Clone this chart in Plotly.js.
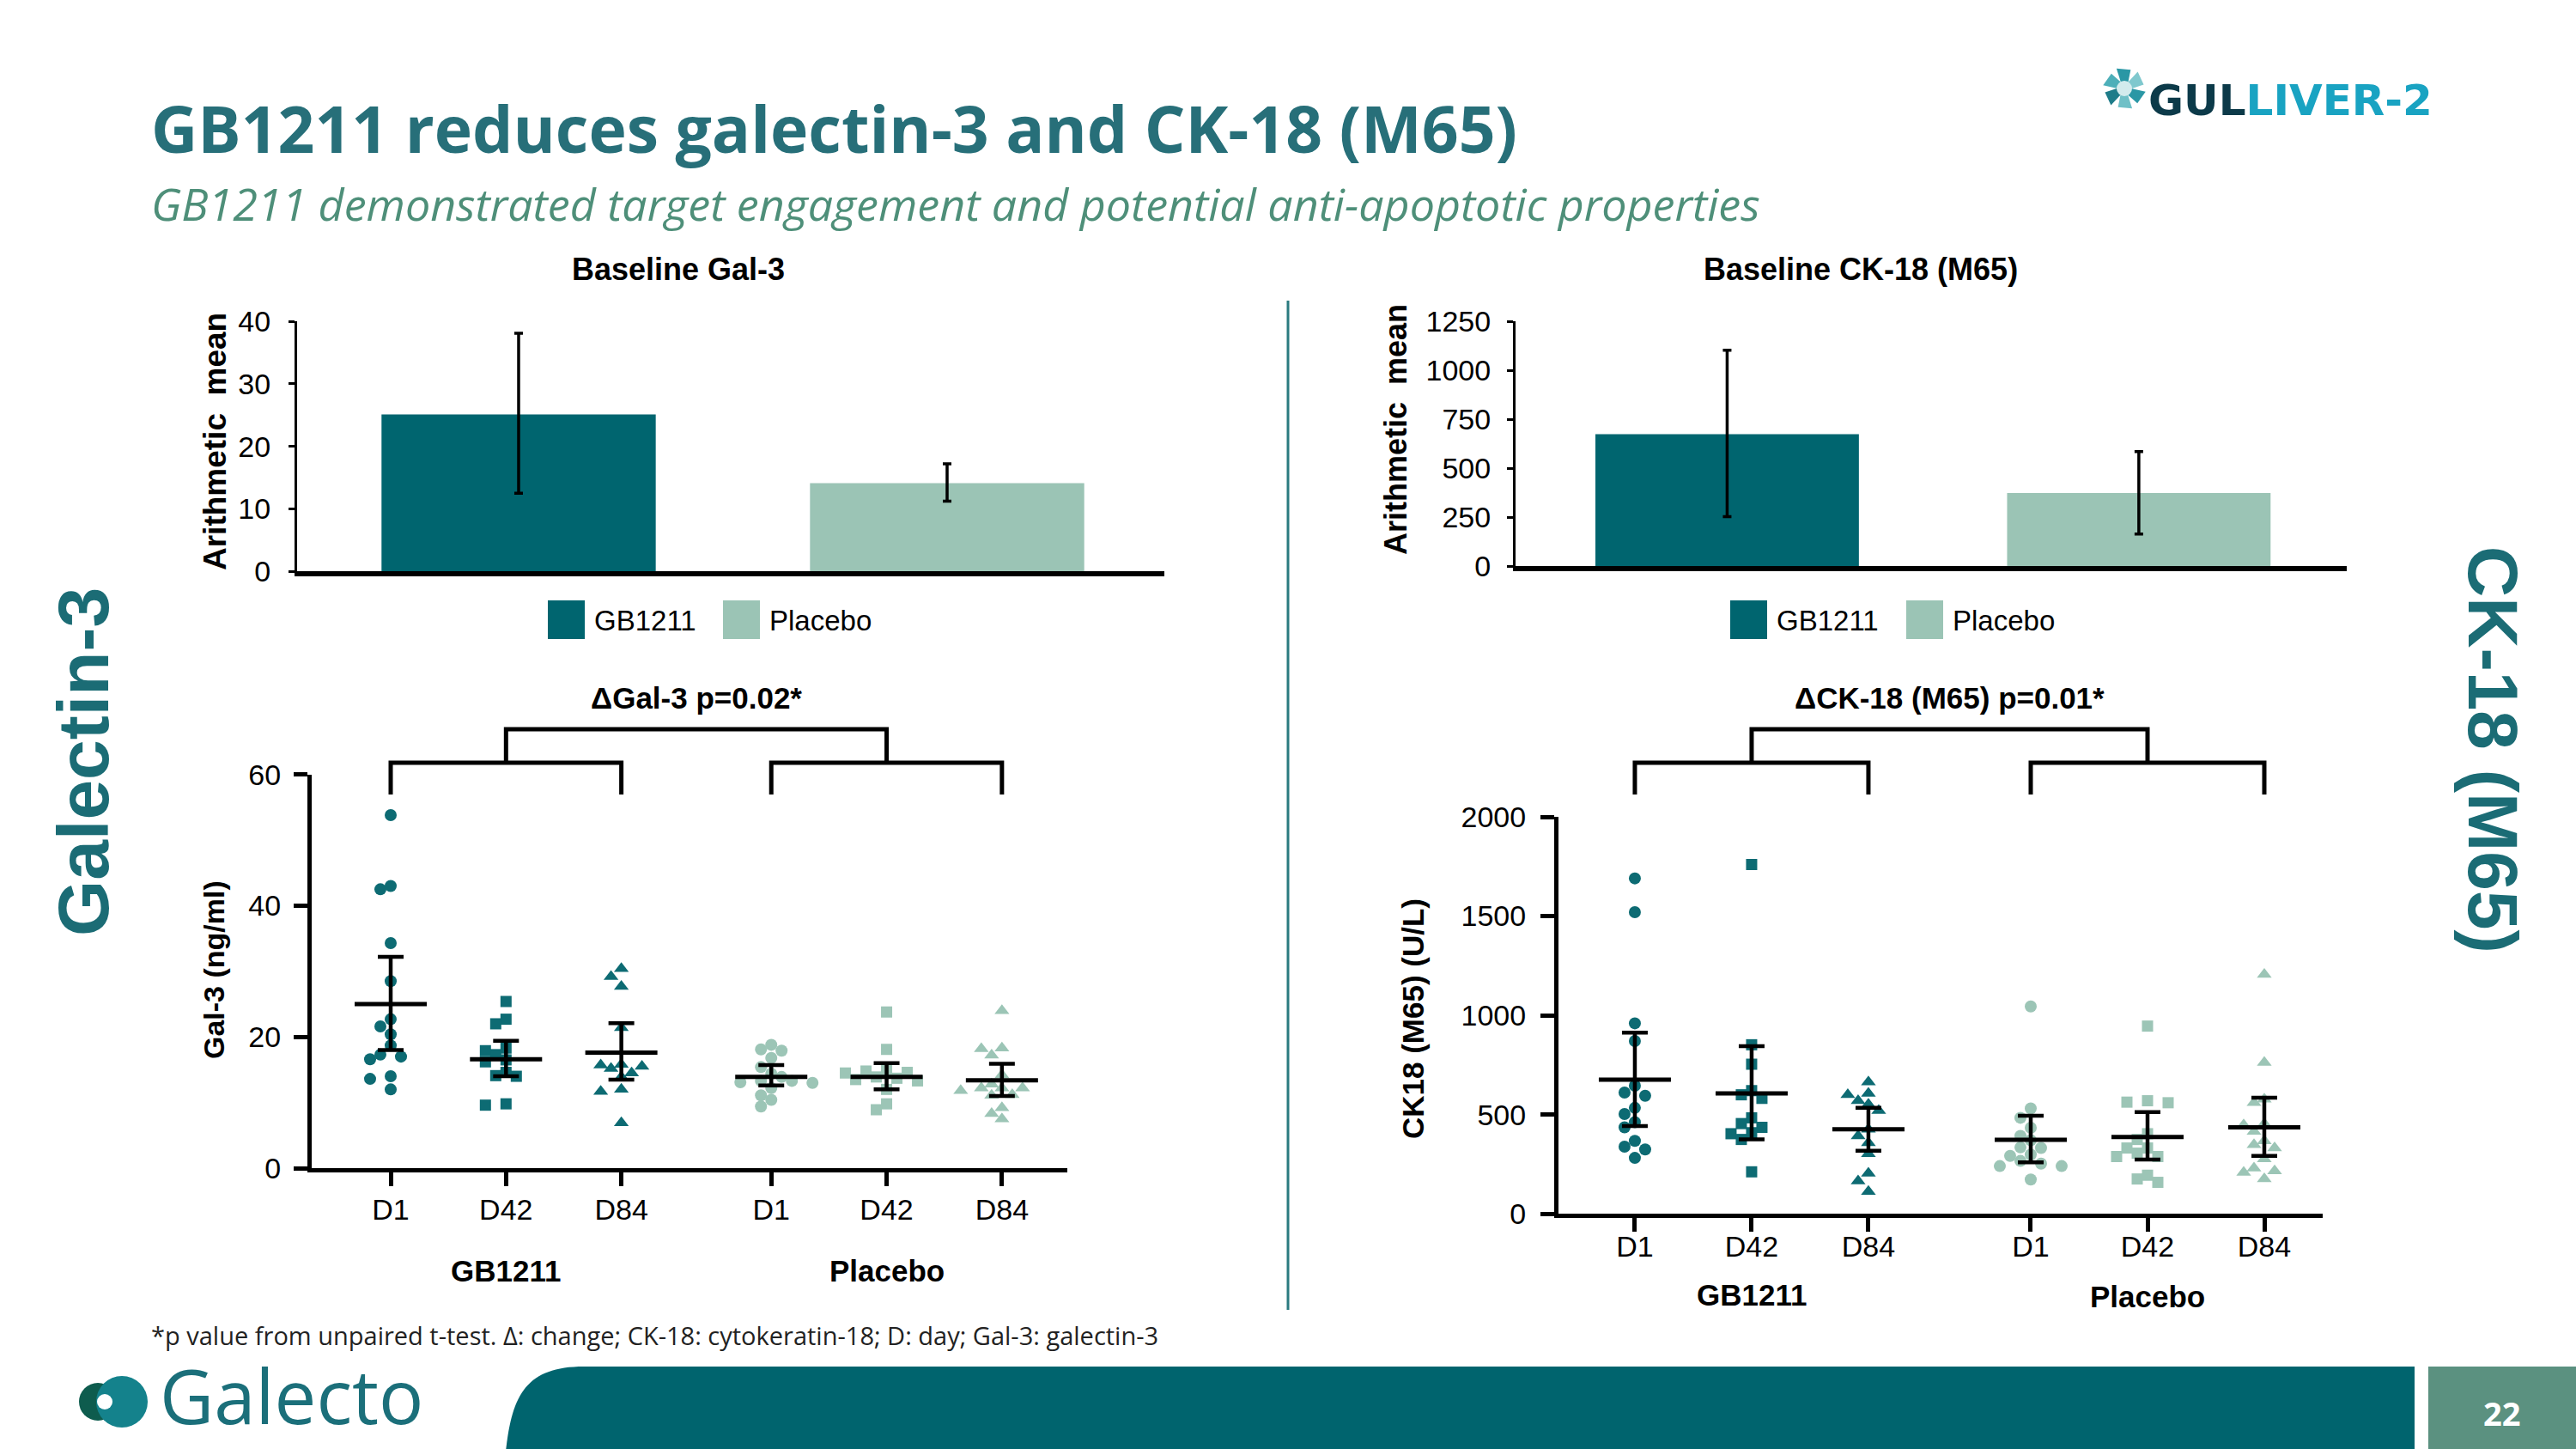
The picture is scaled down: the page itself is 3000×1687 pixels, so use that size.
<!DOCTYPE html>
<html><head><meta charset="utf-8">
<script src="https://cdn.plot.ly/plotly-3.0.1.min.js"></script>
<style>html,body{margin:0;padding:0;background:#fff;}#chart{width:3000px;height:1687px;}</style>
</head><body><div id="chart"></div>
<script>
// ================= DATA =================
const groups = ['GB1211', 'Placebo'];
const days = ['D1', 'D42', 'D84'];

// Baseline arithmetic mean (bars) with error bar ends
const gal3BaseMean  = [25.1, 14.1];
const gal3BaseUpper = [38.1, 17.2];
const gal3BaseLower = [12.5, 11.2];
const ck18BaseMean  = [675, 374];
const ck18BaseUpper = [1103, 586];
const ck18BaseLower = [253, 165];

// Individual Gal-3 values (ng/ml)
const gal3_GB_D1  = [53.8, 43.0, 42.5, 34.3, 28.5, 22.7, 21.6, 20.4, 18.7, 17.0, 17.3, 16.6, 14.0, 13.6, 12.0];
const gal3_GB_D42 = [25.4, 22.7, 22.0, 18.3, 17.3, 17.9, 16.2, 16.5, 14.6, 14.0, 14.1, 9.6, 9.8];
const gal3_GB_D84 = [30.4, 29.2, 27.7, 21.4, 15.8, 15.7, 15.5, 15.2, 14.5, 13.9, 12.0, 11.7, 6.9];
const gal3_PB_D1  = [18.8, 17.9, 18.1, 16.8, 15.4, 14.4, 13.1, 13.3, 13.0, 13.3, 12.2, 11.1, 10.4, 9.4, 13.9];
const gal3_PB_D42 = [23.8, 18.1, 14.6, 14.8, 14.5, 13.3, 13.5, 13.7, 12.0, 9.8, 8.9, 15.0, 13.9];
const gal3_PB_D84 = [24.0, 18.2, 18.3, 17.2, 14.2, 12.2, 11.8, 12.2, 12.2, 11.2, 11.1, 12.8, 9.2, 8.3, 7.5];
// Gal-3 mean and interval per day
const gal3MeanGB  = [25.0, 16.6, 17.6];
const gal3UpperGB = [32.2, 19.4, 22.1];
const gal3LowerGB = [18.0, 14.0, 13.5];
const gal3MeanPB  = [13.9, 13.9, 13.4];
const gal3UpperPB = [15.7, 16.0, 15.9];
const gal3LowerPB = [12.6, 12.0, 11.0];

// Individual CK-18 (M65) values (U/L)
const ck18_GB_D1  = [1690, 1520, 960, 871, 646, 611, 595, 534, 503, 462, 436, 368, 339, 325, 282];
const ck18_GB_D42 = [1760, 852, 754, 621, 600, 582, 484, 455, 436, 404, 409, 375, 212];
const ck18_GB_D84 = [664, 607, 600, 552, 570, 520, 426, 393, 358, 303, 205, 166, 113];
const ck18_PB_D1  = [1045, 531, 484, 434, 393, 371, 332, 335, 299, 292, 253, 241, 267, 241, 173];
const ck18_PB_D42 = [946, 570, 563, 560, 404, 375, 332, 332, 306, 289, 289, 195, 176, 159];
const ck18_PB_D84 = [1206, 763, 578, 560, 455, 448, 416, 368, 332, 349, 277, 231, 209, 217, 176];
const ck18MeanGB  = [676, 607, 426];
const ck18UpperGB = [913, 845, 534];
const ck18LowerGB = [443, 375, 318];
const ck18MeanPB  = [373, 387, 436];
const ck18UpperPB = [494, 513, 585];
const ck18LowerPB = [260, 274, 292];

// ================= LAYOUT / STYLE =================
const W = 3000, H = 1687;
const fx = p => p / W, fy = p => 1 - p / H;
const DARK = '#00656F', LIGHT = '#9BC4B5';
const DARKPT = '#0D6B73', LIGHTPT = '#9CC5B6';
const TEAL_TXT = '#1B6C75';
const AXF = 'Liberation Sans, Arial, sans-serif';
const SLF = 'Open Sans, Noto Sans, sans-serif';

const G = {
  bar1: {x0: 346, x1: 1356, yTop: 374.3, yBot: 665, xr: [-0.517, 1.507], yr: [0, 40], dtick: 10},
  bar2: {x0: 1765, x1: 2733, yTop: 374.3, yBot: 659.3, xr: [-0.514, 1.505], yr: [0, 1250], dtick: 250},
  sc1: {x0: 363, x1: 1243, yTop: 901.7, yBot: 1360, xr: [0.315, 6.867], yr: [0, 60], dtick: 20},
  sc2: {x0: 1815, x1: 2705, yTop: 951, yBot: 1413.3, xr: [0.346, 6.89], yr: [0, 2000], dtick: 500}
};
const pxX = g => (g.x1 - g.x0) / (g.xr[1] - g.xr[0]);
const pxY = g => (g.yBot - g.yTop) / (g.yr[1] - g.yr[0]);
const posGB = [1, 2, 3];
const posPB1 = [4.3, 5.3, 6.3];
const posPB2 = [4.39, 5.39, 6.39];

function beeswarm(vals, pyu, step, d) {
  const order = vals.map((v, i) => i).sort((a, b) => vals[b] - vals[a]);
  const placed = []; const off = new Array(vals.length).fill(0);
  for (const i of order) {
    const y = vals[i] * pyu;
    for (let n = 0; n < 60; n++) {
      const k = n === 0 ? 0 : (n % 2 ? -Math.ceil(n / 2) : Math.ceil(n / 2));
      const x = k * step;
      if (placed.every(p => (p[0] - x) ** 2 + (p[1] - y) ** 2 >= d * d)) { placed.push([x, y]); off[i] = x; break; }
    }
  }
  return off;
}

function pts(vals, xc, g, xa, ya, color, symbol, size) {
  const off = beeswarm(vals, pxY(g), 12, 12.5);
  return {type: 'scatter', mode: 'markers', x: vals.map((v, i) => xc + off[i] / pxX(g)), y: vals,
    xaxis: xa, yaxis: ya, cliponaxis: false, hoverinfo: 'skip', showlegend: false,
    marker: {color: color, symbol: symbol, size: size, line: {width: 0}}};
}
function meanTrace(xs, mean, upper, lower, xa, ya) {
  return {type: 'scatter', mode: 'markers', x: xs, y: mean, xaxis: xa, yaxis: ya, cliponaxis: false,
    hoverinfo: 'skip', showlegend: false,
    marker: {symbol: 'line-ew', size: 60, color: '#000', line: {width: 5, color: '#000'}},
    error_y: {type: 'data', symmetric: false, array: upper.map((u, i) => u - mean[i]),
      arrayminus: lower.map((l, i) => mean[i] - l), color: '#000', thickness: 4.5, width: 15}};
}
function barTrace(mean, upper, lower, xa, ya) {
  return {type: 'bar', x: [0, 1], y: mean, width: 0.64, xaxis: xa, yaxis: ya, hoverinfo: 'skip',
    showlegend: false, marker: {color: [DARK, LIGHT], line: {width: 0}},
    error_y: {type: 'data', symmetric: false, array: upper.map((u, i) => u - mean[i]),
      arrayminus: lower.map((l, i) => mean[i] - l), color: '#000', thickness: 3.5, width: 5}};
}

const sym = ['circle', 'square', 'triangle-up'];
const symSize = [14, 13, 15];
const gal3GB = [gal3_GB_D1, gal3_GB_D42, gal3_GB_D84];
const gal3PB = [gal3_PB_D1, gal3_PB_D42, gal3_PB_D84];
const ck18GB = [ck18_GB_D1, ck18_GB_D42, ck18_GB_D84];
const ck18PB = [ck18_PB_D1, ck18_PB_D42, ck18_PB_D84];

const traces = [];
traces.push(barTrace(gal3BaseMean, gal3BaseUpper, gal3BaseLower, 'x', 'y'));
traces.push(barTrace(ck18BaseMean, ck18BaseUpper, ck18BaseLower, 'x2', 'y2'));
for (let d = 0; d < 3; d++) {
  traces.push(pts(gal3GB[d], posGB[d], G.sc1, 'x3', 'y3', DARKPT, sym[d], symSize[d]));
  traces.push(pts(gal3PB[d], posPB1[d], G.sc1, 'x3', 'y3', LIGHTPT, sym[d], symSize[d]));
  traces.push(pts(ck18GB[d], posGB[d], G.sc2, 'x4', 'y4', DARKPT, sym[d], symSize[d]));
  traces.push(pts(ck18PB[d], posPB2[d], G.sc2, 'x4', 'y4', LIGHTPT, sym[d], symSize[d]));
}
traces.push(meanTrace(posGB, gal3MeanGB, gal3UpperGB, gal3LowerGB, 'x3', 'y3'));
traces.push(meanTrace(posPB1, gal3MeanPB, gal3UpperPB, gal3LowerPB, 'x3', 'y3'));
traces.push(meanTrace(posGB, ck18MeanGB, ck18UpperGB, ck18LowerGB, 'x4', 'y4'));
traces.push(meanTrace(posPB2, ck18MeanPB, ck18UpperPB, ck18LowerPB, 'x4', 'y4'));

function xAx(g, anchor, opts) {
  return Object.assign({domain: [fx(g.x0), fx(g.x1)], range: g.xr, anchor: anchor, showgrid: false,
    zeroline: false, showline: true, linecolor: '#000', fixedrange: true,
    tickfont: {family: AXF, size: 34, color: '#000'}}, opts);
}
function yAx(g, anchor, opts) {
  return Object.assign({domain: [fy(g.yBot), fy(g.yTop)], range: g.yr, anchor: anchor, dtick: g.dtick,
    tick0: 0, showgrid: false, zeroline: false, showline: true, linecolor: '#000', fixedrange: true,
    tickfont: {family: AXF, size: 34, color: '#000'}, ticks: 'outside', tickcolor: '#000'}, opts);
}

const layout = {
  width: W, height: H, margin: {l: 0, r: 0, t: 0, b: 0}, paper_bgcolor: '#fff', plot_bgcolor: 'rgba(0,0,0,0)',
  showlegend: false, font: {family: AXF, color: '#000'},
  xaxis: xAx(G.bar1, 'y', {showticklabels: false, ticks: '', linewidth: 6}),
  yaxis: yAx(G.bar1, 'x', {linewidth: 3, ticklen: 7, tickwidth: 3, ticklabelstandoff: 14}),
  xaxis2: xAx(G.bar2, 'y2', {showticklabels: false, ticks: '', linewidth: 6}),
  yaxis2: yAx(G.bar2, 'x2', {linewidth: 3, ticklen: 7, tickwidth: 3, ticklabelstandoff: 12}),
  xaxis3: xAx(G.sc1, 'y3', {linewidth: 5, ticks: 'outside', ticklen: 16, tickwidth: 5, tickcolor: '#000',
    tickmode: 'array', tickvals: posGB.concat(posPB1), ticktext: days.concat(days), ticklabelstandoff: -2}),
  yaxis3: yAx(G.sc1, 'x3', {linewidth: 5, ticklen: 16, tickwidth: 5, ticklabelstandoff: 8}),
  xaxis4: xAx(G.sc2, 'y4', {linewidth: 5, ticks: 'outside', ticklen: 16, tickwidth: 5, tickcolor: '#000',
    tickmode: 'array', tickvals: posGB.concat(posPB2), ticktext: days.concat(days), ticklabelstandoff: -12}),
  yaxis4: yAx(G.sc2, 'x4', {linewidth: 5, ticklen: 16, tickwidth: 5, ticklabelstandoff: 10}),
  annotations: [], shapes: []
};

const A = layout.annotations, S = layout.shapes;
function ann(text, x, y, o) {
  A.push(Object.assign({text: text, x: fx(x), y: fy(y), xref: 'paper', yref: 'paper', showarrow: false,
    xanchor: 'center', yanchor: 'middle', font: {family: AXF, size: 32, color: '#000'}}, o || {}));
}
// Header
ann('<b>GB1211 reduces galectin-3 and CK-18 (M65)</b>', 174, 149, {xanchor: 'left', font: {family: SLF, size: 75, color: '#276F79'}});
ann('<i>GB1211 demonstrated target engagement and potential anti-apoptotic properties</i>', 174, 237,
  {xanchor: 'left', font: {family: SLF, size: 52, color: '#4E8F79'}});
ann('<b>GUL</b><b><span style="color:#19A3C2">LIVER-2</span></b>', 2500, 117,
  {xanchor: 'left', font: {family: 'DejaVu Sans, sans-serif', size: 50, color: '#0C3A49'}});
// Section labels
ann('<b>Galectin-3</b>', 97, 887, {textangle: -90, font: {family: AXF, size: 84, color: TEAL_TXT}});
ann('<b>CK-18 (M65)</b>', 2904, 873, {textangle: 90, font: {family: AXF, size: 82, color: TEAL_TXT}});
// Bar chart titles and axis titles
ann('<b>Baseline Gal-3</b>', 790, 313, {font: {family: AXF, size: 36, color: '#000'}});
ann('<b>Baseline CK-18 (M65)</b>', 2167, 313, {font: {family: AXF, size: 36, color: '#000'}});
ann('<b>Arithmetic  mean</b>', 250, 514, {textangle: -90, font: {family: AXF, size: 37, color: '#000'}});
ann('<b>Arithmetic  mean</b>', 1625, 500, {textangle: -90, font: {family: AXF, size: 36, color: '#000'}});
// Legends
const legSq = [[638, 842], [2015, 2220]];
const legY = [699, 744];
legSq.forEach(pair => {
  pair.forEach((x, k) => {
    S.push({type: 'rect', xref: 'paper', yref: 'paper', x0: fx(x), x1: fx(x + 43), y0: fy(legY[1]), y1: fy(legY[0]),
      fillcolor: k === 0 ? DARK : LIGHT, line: {width: 0}});
    ann(groups[k], x + 52, 722, {xanchor: 'left', font: {family: AXF, size: 33, color: '#000'}});
  });
});
// Scatter y titles
ann('<b>Gal-3 (ng/ml)</b>', 249, 1129, {textangle: -90, font: {family: AXF, size: 34, color: '#000'}});
ann('<b>CK18 (M65) (U/L)</b>', 1645, 1186, {textangle: -90, font: {family: AXF, size: 35, color: '#000'}});
// Group labels under scatter plots
function grp(text, xa, x, y) {
  A.push({text: '<b>' + text + '</b>', x: x, y: fy(y), xref: xa, yref: 'paper', showarrow: false,
    xanchor: 'center', yanchor: 'middle', font: {family: AXF, size: 35, color: '#000'}});
}
grp(groups[0], 'x3', posGB[1], 1479);
grp(groups[1], 'x3', posPB1[1], 1479);
grp(groups[0], 'x4', posGB[1], 1507);
grp(groups[1], 'x4', posPB2[1], 1509);
// Brackets + p-value labels
function bracket(xa, pb, label) {
  const yT = fy(849), yM = fy(888), yD = fy(925);
  const p = `M ${posGB[0]},${yD} L ${posGB[0]},${yM} L ${posGB[2]},${yM} L ${posGB[2]},${yD} ` +
            `M ${pb[0]},${yD} L ${pb[0]},${yM} L ${pb[2]},${yM} L ${pb[2]},${yD} ` +
            `M ${posGB[1]},${yM} L ${posGB[1]},${yT} L ${pb[1]},${yT} L ${pb[1]},${yM}`;
  S.push({type: 'path', xref: xa, yref: 'paper', path: p, line: {color: '#000', width: 5}});
  A.push({text: '<b>' + label + '</b>', x: (posGB[1] + pb[1]) / 2, y: fy(812), xref: xa, yref: 'paper',
    xanchor: 'center', yanchor: 'middle', showarrow: false, font: {family: AXF, size: 35, color: '#000'}});
}
bracket('x3', posPB1, 'ΔGal-3 p=0.02*');
bracket('x4', posPB2, 'ΔCK-18 (M65) p=0.01*');
// Divider
S.push({type: 'line', xref: 'paper', yref: 'paper', x0: fx(1500), x1: fx(1500), y0: fy(350), y1: fy(1525), line: {color: '#2B7B80', width: 3}});
// Footnote
ann('*p value from unpaired t-test. Δ: change; CK-18: cytokeratin-18; D: day; Gal-3: galectin-3', 174, 1554,
  {xanchor: 'left', font: {family: SLF, size: 29, color: '#222'}});
// Footer band
const fb = `M ${fx(589)},${fy(1690)} C ${fx(596)},${fy(1625)} ${fx(612)},${fy(1591)} ${fx(680)},${fy(1591)} L ${fx(2812)},${fy(1591)} L ${fx(2812)},${fy(1690)} Z`;
S.push({type: 'path', xref: 'paper', yref: 'paper', path: fb, fillcolor: '#00646E', line: {width: 0}});
S.push({type: 'rect', xref: 'paper', yref: 'paper', x0: fx(2828), x1: fx(3002), y0: fy(1690), y1: fy(1591), fillcolor: '#5B9180', line: {width: 0}});
ann('<b>22</b>', 2913, 1645, {font: {family: SLF, size: 38, color: '#fff'}});
// Galecto logo
function circ(cx, cy, r, col) {
  S.push({type: 'circle', xref: 'paper', yref: 'paper', x0: fx(cx - r), x1: fx(cx + r), y0: fy(cy + r), y1: fy(cy - r), fillcolor: col, line: {width: 0}});
}
circ(114, 1632, 22, '#0E5C4E');
circ(142, 1632, 30, '#14828C');
circ(122, 1632, 9, '#ffffff');
ann('Galecto', 184, 1624, {xanchor: 'left', font: {family: SLF, size: 87, color: '#1B6F7A'}});
// GULLIVER pinwheel
const cx = 2474, cy = 103;
const bladeCols = ['#2A97A5', '#6FC0C7', '#1E7C89', '#4DAFB9', '#2A97A5', '#7FC8CE'];
for (let i = 0; i < 6; i++) {
  const a = i * Math.PI / 3;
  const P = (r, da) => [cx + r * Math.cos(a + da), cy + r * Math.sin(a + da)];
  const q = [P(8, 0), P(25, 0.15), P(23, 0.85), P(9, 1.05)];
  const path = 'M ' + q.map(v => fx(v[0]) + ',' + fy(v[1])).join(' L ') + ' Z';
  S.push({type: 'path', xref: 'paper', yref: 'paper', path: path, fillcolor: bladeCols[i], line: {width: 0}});
}
circ(cx, cy, 9, '#D3EBED');

Plotly.newPlot('chart', traces, layout, {displayModeBar: false, staticPlot: true});
</script></body></html>
